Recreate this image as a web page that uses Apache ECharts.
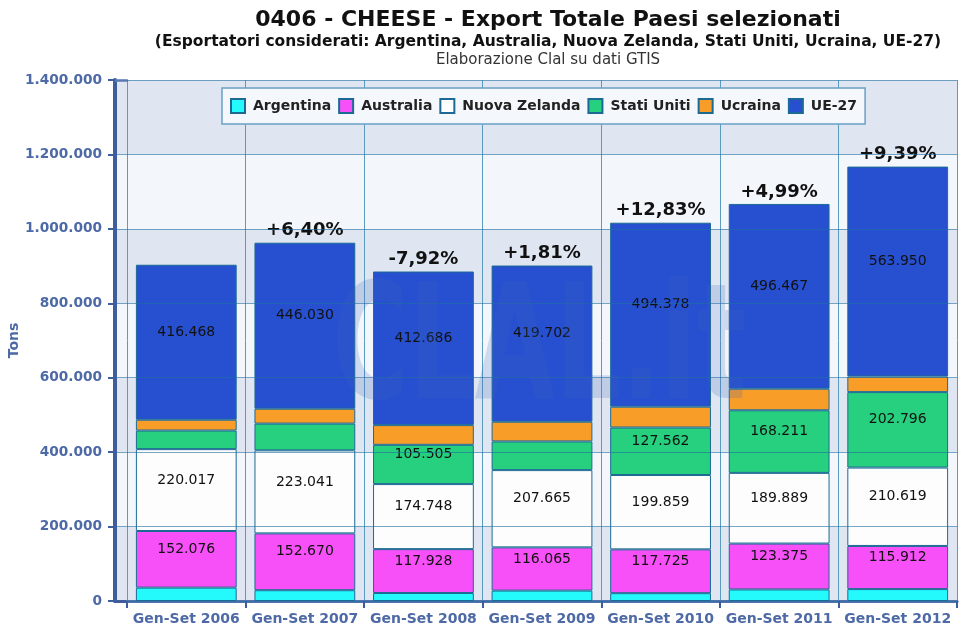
<!DOCTYPE html>
<html>
<head>
<meta charset="utf-8">
<title>0406 - CHEESE - Export Totale Paesi selezionati</title>
<script src="https://cdn.jsdelivr.net/npm/echarts@6/dist/echarts.min.js"></script>
<style>
	html, body { margin: 0; padding: 0; background: #fff; }
	#chart { width: 962px; height: 629px; }
</style>
</head>
<body>
<div id="chart"></div>
<script>
	// values in tons, Gen-Set of each year
	var categories = ['Gen-Set 2006', 'Gen-Set 2007', 'Gen-Set 2008', 'Gen-Set 2009', 'Gen-Set 2010', 'Gen-Set 2011', 'Gen-Set 2012'];
	var argentina = [36000, 29000, 21500, 28000, 21000, 31000, 32000];
	var australia = [152076, 152670, 117928, 116065, 117725, 123375, 115912];
	var nuovaZelanda = [220017, 223041, 174748, 207665, 199859, 189889, 210619];
	var statiUniti = [50000, 72000, 105505, 77000, 127562, 168211, 202796];
	var ucraina = [29000, 40000, 53000, 53000, 56000, 58000, 42000];
	var ue27 = [416468, 446030, 412686, 419702, 494378, 496467, 563950];
	var growthLabels = ['', '+6,40%', '-7,92%', '+1,81%', '+12,83%', '+4,99%', '+9,39%'];
	var yMin = 0, yMax = 1400000, yStep = 200000;

	var FONT = 'DejaVu Sans, Verdana, sans-serif';
	var axisBlue = '#3d5d9c';
	var labelBlue = '#4d69a6';
	var bandColors = ['#dfe6f1', '#f3f7fc'];

	function fmt(v){
		return String(v).replace(/\B(?=(\d{3})+(?!\d))/g, '.');
	}

	var seriesDefs = [
		{name: 'Argentina', data: argentina, color: '#24F9FC'},
		{name: 'Australia', data: australia, color: '#F850F8'},
		{name: 'Nuova Zelanda', data: nuovaZelanda, color: '#FDFDFD'},
		{name: 'Stati Uniti', data: statiUniti, color: '#27D07E'},
		{name: 'Ucraina', data: ucraina, color: '#F99D29'},
		{name: 'UE-27', data: ue27, color: '#2750D0'}
	];

	var series = seriesDefs.map(function(s){
		return {
			name: s.name,
			type: 'bar',
			stack: 'tot',
			data: s.data,
			barWidth: '85%',
			xAxisIndex: 0,
			yAxisIndex: 0,
			itemStyle: {color: s.color, borderColor: '#1c6a94', borderWidth: 1},
			label: {
				show: true,
				position: 'inside',
				offset: [0, -10],
				color: '#111',
				fontSize: 14,
				fontFamily: FONT,
				formatter: function(p){ return p.value >= 100000 ? fmt(p.value) : ''; }
			},
			emphasis: {disabled: true}
		};
	});
	// empty bar on top of the stack, only carries the growth label
	series.push({
		name: 'growth',
		type: 'bar',
		stack: 'tot',
		data: categories.map(function(){ return 0; }),
		barWidth: '85%',
		xAxisIndex: 0,
		yAxisIndex: 0,
		itemStyle: {color: 'rgba(0,0,0,0)'},
		label: {
			show: true,
			position: 'top',
			distance: 3,
			color: '#111',
			fontSize: 18,
			fontWeight: 'bold',
			fontFamily: FONT,
			formatter: function(p){ return growthLabels[p.dataIndex]; }
		},
		emphasis: {disabled: true}
	});

	var myChart = echarts.init(document.getElementById('chart'));
	myChart.setOption({
		backgroundColor: '#fff',
		animation: false,
		textStyle: {fontFamily: FONT},
		title: [
			{
				text: '0406 - CHEESE - Export Totale Paesi selezionati',
				left: 548, top: 9, padding: 0, textAlign: 'center',
				textStyle: {fontSize: 22, fontWeight: 'bold', color: '#111', fontFamily: FONT}
			},
			{
				text: '(Esportatori considerati: Argentina, Australia, Nuova Zelanda, Stati Uniti, Ucraina, UE-27)',
				left: 548, top: 34, padding: 0, textAlign: 'center',
				textStyle: {fontSize: 15.5, fontWeight: 'bold', color: '#111', fontFamily: FONT}
			},
			{
				text: 'Elaborazione Clal su dati GTIS',
				left: 548, top: 53, padding: 0, textAlign: 'center',
				textStyle: {fontSize: 15, fontWeight: 'normal', color: '#333', fontFamily: FONT}
			}
		],
		legend: {
			data: seriesDefs.map(function(s){ return s.name; }),
			left: 222, top: 88,
			orient: 'horizontal',
			icon: 'rect',
			itemWidth: 14, itemHeight: 14, itemGap: 7,
			padding: [10, 8],
			backgroundColor: '#f4f7fc',
			borderColor: '#6aa0c4', borderWidth: 1.5,
			textStyle: {fontSize: 14, fontWeight: 'bold', color: '#222', fontFamily: FONT, padding: [0, 0, 0, 3]}
		},
		graphic: [{
			type: 'text',
			left: 332, top: 276,
			z: 4,
			silent: true,
			scaleX: 0.65,
			style: {text: 'CLAL.it', fontSize: 160, fontWeight: 'bold', fontFamily: FONT, fill: 'rgba(60,100,190,0.2)'}
		}],
		grid: [
			{left: 127, right: 5, top: 80, bottom: 28},
			{left: 115, width: 12, top: 80, bottom: 28}
		],
		xAxis: [
			{
				type: 'category', gridIndex: 0, data: categories,
				axisLine: {lineStyle: {color: axisBlue, width: 3}},
				axisTick: {show: true, interval: 0, length: 7, lineStyle: {color: axisBlue, width: 2}},
				axisLabel: {interval: 0, color: labelBlue, fontSize: 14, fontWeight: 'bold', margin: 11, fontFamily: FONT},
				splitLine: {show: true, interval: 0, lineStyle: {color: '#5a9cc0', width: 1}}
			},
			{
				type: 'category', gridIndex: 1, data: [''],
				axisLine: {lineStyle: {color: axisBlue, width: 3}},
				axisTick: {show: false}, axisLabel: {show: false}
			},
			{
				type: 'category', gridIndex: 0, position: 'top', data: categories,
				axisLine: {lineStyle: {color: '#5b78b3', width: 2.5}},
				axisTick: {show: false}, axisLabel: {show: false}
			},
			{
				type: 'category', gridIndex: 1, position: 'top', data: [''],
				axisLine: {lineStyle: {color: '#5b78b3', width: 2.5}},
				axisTick: {show: false}, axisLabel: {show: false}
			}
		],
		yAxis: [
			{
				type: 'value', gridIndex: 0, min: yMin, max: yMax, interval: yStep,
				axisLine: {show: false}, axisTick: {show: false}, axisLabel: {show: false},
				splitLine: {show: false},
				splitArea: {show: true, areaStyle: {color: bandColors}}
			},
			{
				// grid lines drawn over the bars
				type: 'value', gridIndex: 0, min: yMin, max: yMax, interval: yStep, z: 3,
				axisLine: {show: false}, axisTick: {show: false}, axisLabel: {show: false},
				splitLine: {show: true, lineStyle: {color: 'rgba(30,110,160,0.6)', width: 1}}
			},
			{
				type: 'value', gridIndex: 1, min: yMin, max: yMax, interval: yStep,
				name: 'Tons', nameLocation: 'middle', nameGap: 85,
				nameTextStyle: {color: labelBlue, fontSize: 14, fontWeight: 'bold', fontFamily: FONT},
				axisLine: {show: true, lineStyle: {color: axisBlue, width: 4}},
				axisTick: {show: true, length: 7, lineStyle: {color: axisBlue, width: 2}},
				axisLabel: {
					color: labelBlue, fontSize: 13.7, fontWeight: 'bold', margin: 13, fontFamily: FONT,
					formatter: function(v){ return fmt(v); }
				},
				splitLine: {show: true, lineStyle: {color: 'rgba(30,110,160,0.6)', width: 1}},
				splitArea: {show: true, areaStyle: {color: bandColors}}
			}
		],
		series: series
	});
</script>
</body>
</html>
